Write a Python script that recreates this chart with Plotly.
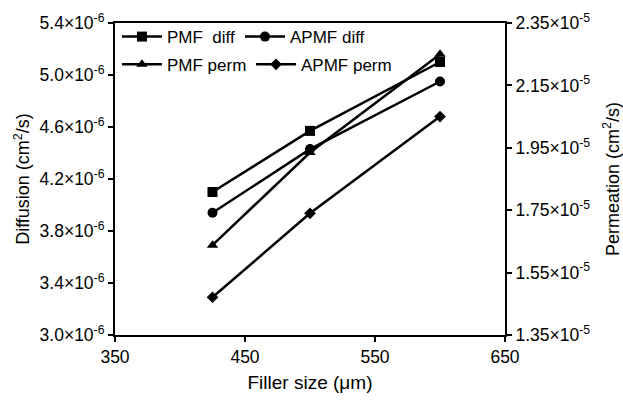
import plotly.graph_objects as go

filler_size = [425, 500, 600]
pmf_diff = [4.10e-6, 4.57e-6, 5.10e-6]
apmf_diff = [3.94e-6, 4.43e-6, 4.95e-6]
pmf_perm = [1.638e-5, 1.935e-5, 2.25e-5]
apmf_perm = [1.471e-5, 1.740e-5, 2.05e-5]

x_ticks = [350, 450, 550, 650]
left_ticks = [3.0e-6, 3.4e-6, 3.8e-6, 4.2e-6, 4.6e-6, 5.0e-6, 5.4e-6]
left_ticktext = ["3.0×10<sup>-6</sup>", "3.4×10<sup>-6</sup>", "3.8×10<sup>-6</sup>", "4.2×10<sup>-6</sup>",
                 "4.6×10<sup>-6</sup>", "5.0×10<sup>-6</sup>", "5.4×10<sup>-6</sup>"]
right_ticks = [1.35e-5, 1.55e-5, 1.75e-5, 1.95e-5, 2.15e-5, 2.35e-5]
right_ticktext = ["1.35×10<sup>-5</sup>", "1.55×10<sup>-5</sup>", "1.75×10<sup>-5</sup>",
                  "1.95×10<sup>-5</sup>", "2.15×10<sup>-5</sup>", "2.35×10<sup>-5</sup>"]

FONT = "Liberation Sans, Arial, sans-serif"
line = dict(color="black", width=2.5)

fig = go.Figure()
fig.add_trace(go.Scatter(x=filler_size, y=pmf_diff, name="PMF\u00a0 diff", mode="lines+markers",
                         line=line, marker=dict(symbol="square", size=10, color="black"),
                         legend="legend", showlegend=True))
fig.add_trace(go.Scatter(x=filler_size, y=apmf_diff, name="APMF diff", mode="lines+markers",
                         line=line, marker=dict(symbol="circle", size=10, color="black"),
                         legend="legend2", showlegend=True))
fig.add_trace(go.Scatter(x=filler_size, y=pmf_perm, name="PMF perm", mode="lines+markers",
                         line=line, marker=dict(symbol="triangle-up", size=10, color="black"),
                         yaxis="y2", legend="legend3", showlegend=True))
fig.add_trace(go.Scatter(x=filler_size, y=apmf_perm, name="APMF perm", mode="lines+markers",
                         line=line, marker=dict(symbol="diamond", size=9, color="black"),
                         yaxis="y2", legend="legend4", showlegend=True))

axis_common = dict(showgrid=False, zeroline=False, showline=True, linecolor="black", linewidth=2,
                   ticks="outside", ticklen=5, tickwidth=1.5, tickcolor="black", automargin=False,
                   tickfont=dict(family=FONT, size=17.5, color="black"))


def leg(x, y):
    return dict(orientation="h", x=x, y=y, xanchor="left", yanchor="middle",
                itemwidth=40, bgcolor="rgba(0,0,0,0)",
                font=dict(family=FONT, size=17), tracegroupgap=0)


fig.update_layout(
    width=623, height=400,
    showlegend=True,
    margin=dict(l=115, r=118, t=23, b=65),
    plot_bgcolor="white", paper_bgcolor="white",
    font=dict(family=FONT, color="black"),
    xaxis=dict(range=[350, 650], tickvals=x_ticks, mirror=True,
               title=dict(text="Filler size (μm)", font=dict(family=FONT, size=19), standoff=10),
               **axis_common),
    yaxis=dict(range=[3.0e-6, 5.4e-6], tickvals=left_ticks, ticktext=left_ticktext,
               title=dict(text="Diffusion (cm<sup>2</sup>/s)", font=dict(family=FONT, size=18), standoff=5),
               **axis_common),
    yaxis2=dict(range=[1.35e-5, 2.35e-5], tickvals=right_ticks, ticktext=right_ticktext,
                overlaying="y", side="right",
                title=dict(text="Permeation (cm<sup>2</sup>/s)", font=dict(family=FONT, size=18), standoff=28),
                **axis_common),
    legend=leg(0.005, 0.955),
    legend2=leg(0.3205, 0.955),
    legend3=leg(0.005, 0.866),
    legend4=leg(0.3487, 0.866),
)

fig.write_html("out.html", config={"displayModeBar": False},
               post_script="document.body.style.margin='0';document.body.style.padding='0';")
